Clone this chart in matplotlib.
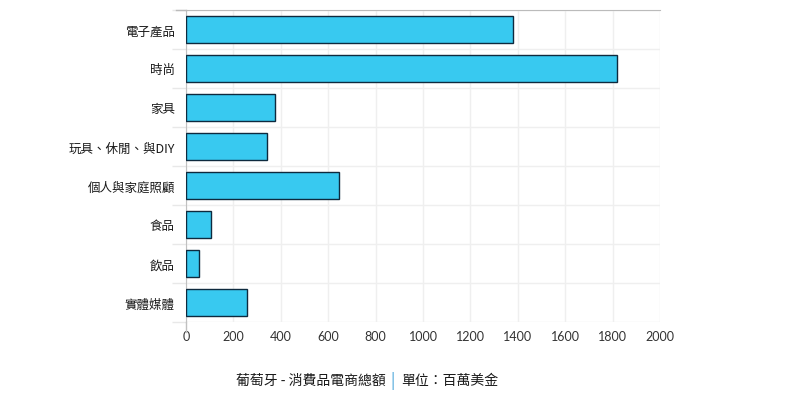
import matplotlib
matplotlib.use("Agg")
import matplotlib.pyplot as plt
import numpy as np

plt.rcParams['font.family'] = ['Noto Sans CJK TC', 'DejaVu Sans']

# 資料
categories = ["電子產品", "時尚", "家具", "玩具、休閒、與DIY", "個人與家庭照顧", "食品", "飲品", "實體媒體"]
values = [1380, 1820, 375, 342, 646, 107, 54, 259]
xticks = [0, 200, 400, 600, 800, 1000, 1200, 1400, 1600, 1800, 2000]

fig = plt.figure(figsize=(8.03, 4.10), dpi=100)
W, H = 803, 410
ax = fig.add_axes([186 / W, 1 - 323 / H, (660 - 186) / W, (323 - 11) / H])

y = np.arange(len(categories))
ax.barh(y, values, height=0.7, color="#38c9f0", edgecolor="#0e2a3e", linewidth=1.0, zorder=3)

ax.set_xlim(0, 2000)
ax.set_ylim(len(categories) - 0.5, -0.5)

ax.set_xticks(xticks)
ax.set_xticklabels([str(t) for t in xticks], family=['Lato', 'DejaVu Sans'], fontsize=9, color="#333333")
ax.set_yticks(y)
ax.set_yticklabels(categories, fontsize=9, color="#1a1a1a", fontweight="medium")
ax.tick_params(axis='y', length=0, pad=8)
ax.tick_params(axis='x', length=0, pad=6)

# 類別邊界線
bounds = np.arange(len(categories) + 1) - 0.5
ax.set_yticks(bounds, minor=True)
ax.tick_params(axis='y', which='minor', length=10, color="#e8e8e8", width=1)
ax.grid(axis='y', which='minor', color="#efefef", linewidth=1, zorder=0)
ax.grid(axis='x', which='major', color="#efefef", linewidth=1, zorder=0)

for s in ["right", "bottom"]:
    ax.spines[s].set_visible(False)
ax.spines["top"].set_color("#bbbbbb")
ax.spines["left"].set_color("#c0c0c0")
ax.plot([0, 0], [len(categories) - 0.5, len(categories) - 0.25], color="#c0c0c0", lw=1, clip_on=False, zorder=4)
ax.plot([-2000 * 10 / 474, 0], [-0.5, -0.5], color="#bbbbbb", lw=1, clip_on=False, zorder=4)

# 標題說明
fig.text(386 / W, 1 - 381 / H, "葡萄牙 - 消費品電商總額", ha="right", va="center", fontsize=10,
         color="#1a1a1a", fontweight="medium")
fig.text(393 / W, 1 - 381 / H, "|", ha="center", va="center", fontsize=11, color="#3fa0d8")
fig.text(401 / W, 1 - 381 / H, "單位：百萬美金", ha="left", va="center", fontsize=10,
         color="#1a1a1a", fontweight="medium")

fig.savefig("out.png", dpi=100)
